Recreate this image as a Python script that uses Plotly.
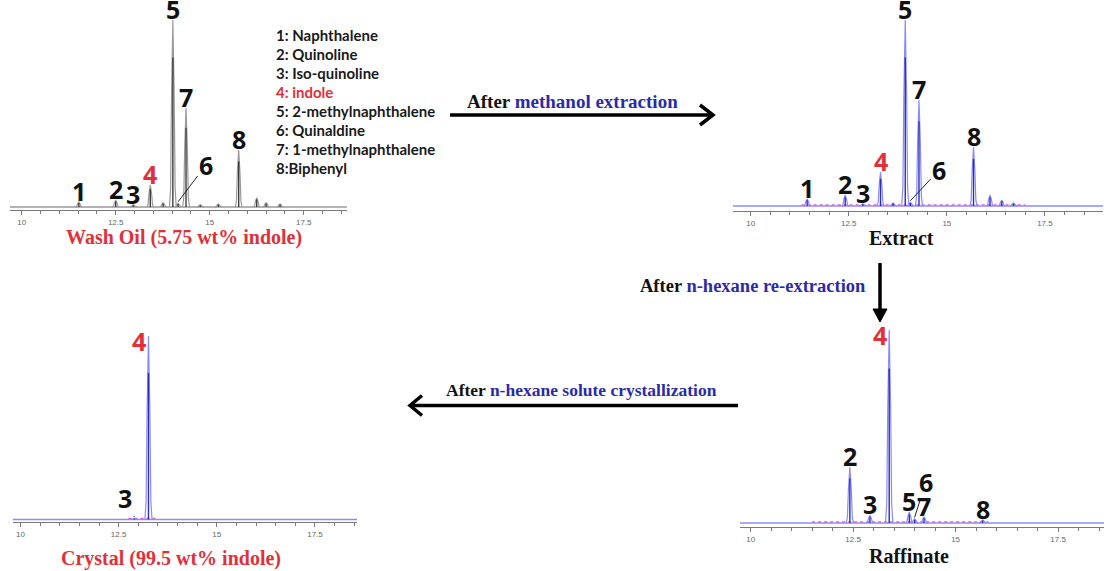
import plotly.graph_objects as go

W, H = 1113, 571

# ---- values: retention time (min) and relative peak height ----
wash_rt = [11.52, 12.50, 12.97, 13.42, 13.76, 14.02, 14.16, 14.37, 14.75, 15.23, 15.77, 16.25, 16.50, 16.87]
wash_h = [2.7, 3.7, 1.2, 11.8, 2.3, 100, 2.0, 53, 1.2, 1.6, 30.5, 5.0, 2.3, 1.6]
wash_lab = ["1", "2", "3", "4", "", "5", "6", "7", "", "", "8", "", "", ""]

extract_rt = [11.44, 12.41, 12.86, 13.31, 13.63, 13.94, 14.07, 14.29, 15.68, 16.10, 16.40, 16.70]
extract_h = [3.8, 5.9, 1.1, 18.3, 1.6, 100, 2.0, 57, 31.7, 5.9, 3.2, 1.6]
extract_lab = ["1", "2", "3", "4", "", "5", "6", "7", "8", "", "", ""]
extract_ref = [11.3, 17.0]

raff_rt = [12.42, 12.91, 13.38, 13.87, 14.00, 14.23, 15.66]
raff_h = [29, 4, 100, 5.7, 2.1, 3.1, 1.6]
raff_lab = ["2", "3", "4", "5", "6", "7", "8"]
raff_ref = [11.5, 15.8]

cryst_rt = [12.90, 13.26]
cryst_h = [0.6, 100]
cryst_lab = ["3", "4"]
cryst_ref = [12.75, 13.45]

compounds = ["1: Naphthalene", "2: Quinoline", "3: Iso-quinoline", "4: indole",
             "5: 2-methylnaphthalene", "6: Quinaldine", "7: 1-methylnaphthalene", "8:Biphenyl"]

tick_vals = [10, 12.5, 15, 17.5]
tick_text = ["10", "12.5", "15", "17.5"]

RED = "#e0303a"
BLUE_TXT = "#2b2ba8"

# peak outline (x offset in min, fraction of height)
PDX = [-0.09, -0.06, -0.035, 0, 0.035, 0.06, 0.09]
PF = [0, 0.1, 0.6, 1, 0.6, 0.1, 0]


def px(x):
    return x / W


def py(y):
    return 1 - y / H


# panel geometry in pixels of the page
panels = [
    dict(rt=wash_rt, h=wash_h, lab=wash_lab, ref=None, xr=[9.69, 18.65],
         left=10, right=347, axis=210, base=207, peak=20, top=0,
         light="#9a9a9a", dark="#3c3c3c"),
    dict(rt=extract_rt, h=extract_h, lab=extract_lab, ref=extract_ref, xr=[9.55, 18.98],
         left=733, right=1103, axis=211, base=206, peak=20, top=0,
         light="#8c8cf2", dark="#2c2cc0"),
    dict(rt=raff_rt, h=raff_h, lab=raff_lab, ref=raff_ref, xr=[9.74, 18.62],
         left=740, right=1104, axis=527, base=523, peak=330, top=295,
         light="#8c8cf2", dark="#2c2cc0"),
    dict(rt=cryst_rt, h=cryst_h, lab=cryst_lab, ref=cryst_ref, xr=[9.81, 18.57],
         left=13, right=357, axis=522, base=519.5, peak=336, top=320,
         light="#8c8cf2", dark="#2c2cc0"),
]

# labels drawn with a leader line: (panel, label) -> (ax, ay)
leaders = {(0, "6"): (28, -37), (1, "6"): (29, -31), (2, "6"): (11, -35), (3, "3"): (-9, -19)}
# labels set beside the peak top instead of above it
side_labels = {(2, "4"), (3, "4")}

fig = go.Figure()
annotations = []
layout = {}

for i, p in enumerate(panels):
    n = "" if i == 0 else str(i + 1)
    xa, ya = "x" + n, "y" + n
    scale = (p["base"] - p["peak"]) / max(p["h"])
    layout["xaxis" + n] = dict(
        domain=[px(p["left"]), px(p["right"])], anchor=ya, range=p["xr"],
        showline=True, linecolor="#7a7a7a", linewidth=1.2, showgrid=False, zeroline=False,
        tickmode="array", tickvals=tick_vals, ticktext=tick_text,
        ticks="outside", ticklen=4, tickcolor="#7a7a7a",
        tickfont=dict(family="Liberation Sans", size=8, color="#666666"),
        minor=dict(tickmode="linear", tick0=10, dtick=0.5, ticks="outside", ticklen=3, tickcolor="#7a7a7a"),
        fixedrange=True,
    )
    layout["yaxis" + n] = dict(
        domain=[py(p["axis"]), py(p["top"])], anchor=xa, visible=False,
        range=[-(p["axis"] - p["base"]) / scale, (p["base"] - p["top"]) / scale],
        fixedrange=True,
    )

    # baseline
    fig.add_trace(go.Scatter(x=p["xr"], y=[0, 0], mode="lines", xaxis=xa, yaxis=ya,
                             line=dict(color=p["light"], width=1.3), hoverinfo="skip", showlegend=False))
    # reference (pink dotted) trace
    if p["ref"]:
        fig.add_trace(go.Scatter(x=p["ref"], y=[0.6, 0.6], mode="lines", xaxis=xa, yaxis=ya,
                                 line=dict(color="#e05ac8", width=1.3, dash="dot"),
                                 hoverinfo="skip", showlegend=False))
    # peaks
    xs, ys, cx, cy = [], [], [], []
    for rt, h in zip(p["rt"], p["h"]):
        for dx, f in zip(PDX, PF):
            xs.append(rt + dx)
            ys.append(h * f)
        xs.append(None)
        ys.append(None)
        cx += [rt, rt, None]
        cy += [0, 0.8 * h, None]
    fig.add_trace(go.Scatter(x=xs, y=ys, mode="lines", xaxis=xa, yaxis=ya,
                             line=dict(color=p["light"], width=1.2), hoverinfo="skip", showlegend=False))
    fig.add_trace(go.Scatter(x=cx, y=cy, mode="lines", xaxis=xa, yaxis=ya,
                             line=dict(color=p["dark"], width=1.4), hoverinfo="skip", showlegend=False))

    # peak numbers
    for rt, h, lab in zip(p["rt"], p["h"], p["lab"]):
        if not lab:
            continue
        font = dict(family="Open Sans", size=25, color=RED if lab == "4" else "#111111", weight="bold")
        if (i, lab) in leaders:
            ax, ay = leaders[(i, lab)]
            annotations.append(dict(x=rt, y=h + 1.5 / scale, xref=xa, yref=ya, text=lab, font=font,
                                    showarrow=True, arrowhead=0, arrowwidth=1, arrowcolor="#222222",
                                    ax=ax, ay=ay, standoff=0))
        elif (i, lab) in side_labels:
            annotations.append(dict(x=rt, y=h, xref=xa, yref=ya, text=lab, font=font, showarrow=False,
                                    xanchor="right", yanchor="middle", xshift=0, yshift=-5))
        else:
            annotations.append(dict(x=rt, y=h, xref=xa, yref=ya, text=lab, font=font, showarrow=False,
                                    xanchor="center", yanchor="bottom", yshift=-8))

# compound list
for k, name in enumerate(compounds):
    annotations.append(dict(x=px(274), y=py(35 + 19 * k), xref="paper", yref="paper", text=name,
                            showarrow=False, xanchor="left", yanchor="middle",
                            font=dict(family="Lato", size=15, weight="bold",
                                      color=RED if name.startswith("4") else "#1a1a1a")))

serif = "Liberation Serif"
captions = [
    ("Wash Oil (5.75 wt% indole)", 184, 238, RED),
    ("Extract", 901, 238, "#111111"),
    ("Raffinate", 909, 556, "#111111"),
    ("Crystal (99.5 wt% indole)", 171, 558, RED),
]
for text, x, y, c in captions:
    annotations.append(dict(x=px(x), y=py(y), xref="paper", yref="paper", text=text, showarrow=False,
                            xanchor="center", yanchor="middle",
                            font=dict(family=serif, size=20, color=c, weight="bold")))

steps = [
    ("methanol extraction", 572, 101, "center", 19),
    ("n-hexane re-extraction", 868, 286, "right", 18.5),
    ("n-hexane solute crystallization", 581, 390, "center", 17.5),
]
for text, x, y, anc, size in steps:
    annotations.append(dict(x=px(x), y=py(y), xref="paper", yref="paper",
                            text=f"After <span style='color:{BLUE_TXT}'>{text}</span>",
                            showarrow=False, xanchor=anc, yanchor="middle",
                            font=dict(family=serif, size=size, color="#111111", weight="bold")))

# process arrows
shapes = []
line_kw = dict(color="black", width=3.5)
shapes.append(dict(type="line", xref="paper", yref="paper", x0=px(450), x1=px(711), y0=py(115), y1=py(115), line=line_kw))
shapes.append(dict(type="path", xref="paper", yref="paper", line=line_kw,
                   path=f"M{px(700)},{py(105)} L{px(713)},{py(115)} L{px(700)},{py(125)}"))
shapes.append(dict(type="line", xref="paper", yref="paper", x0=px(880), x1=px(880), y0=py(263), y1=py(312), line=line_kw))
shapes.append(dict(type="path", xref="paper", yref="paper", line=dict(color="black", width=1), fillcolor="black",
                   path=f"M{px(873)},{py(309)} L{px(880)},{py(322)} L{px(887)},{py(309)} Z"))
shapes.append(dict(type="line", xref="paper", yref="paper", x0=px(738), x1=px(412), y0=py(405.5), y1=py(405.5), line=line_kw))
shapes.append(dict(type="path", xref="paper", yref="paper", line=line_kw,
                   path=f"M{px(422)},{py(395.5)} L{px(410)},{py(405.5)} L{px(422)},{py(415.5)}"))

fig.update_layout(
    width=W, height=H,
    margin=dict(l=0, r=0, t=0, b=0),
    paper_bgcolor="white", plot_bgcolor="white",
    showlegend=False,
    annotations=annotations,
    shapes=shapes,
    **layout,
)

# drop the default 8px page margin so the figure sits flush with the window
fig.write_html("out.html", config={"displayModeBar": False},
               post_script="document.body.style.margin='0';")
